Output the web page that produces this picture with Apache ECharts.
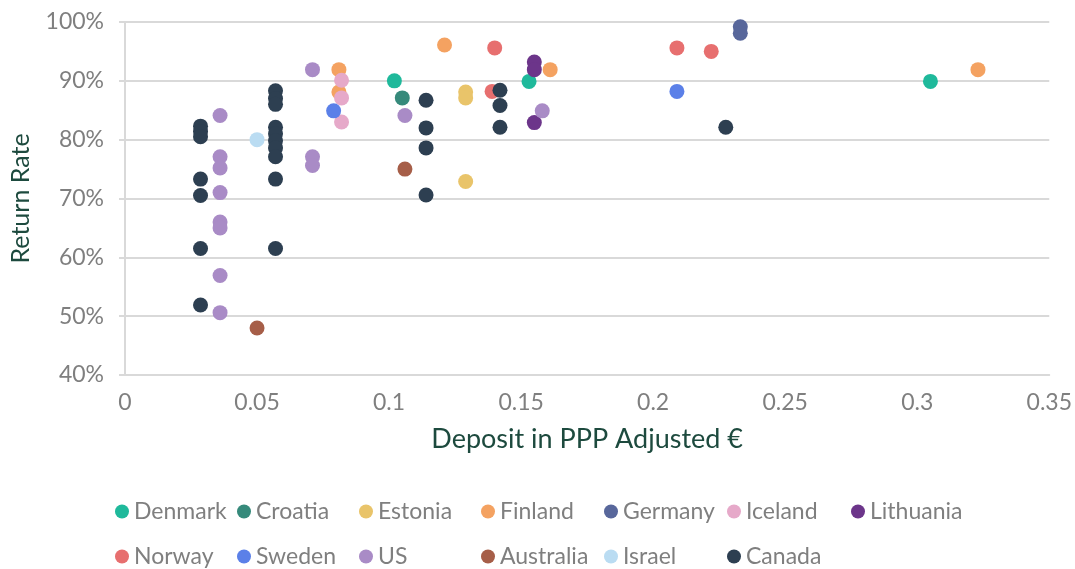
<!DOCTYPE html>
<html>
<head>
<meta charset="utf-8">
<script src="https://cdn.jsdelivr.net/npm/echarts@6/dist/echarts.min.js"></script>
<style>
  html, body { margin: 0; padding: 0; background: #fff; }
  #main { width: 1075px; height: 569px; }
</style>
</head>
<body>
<div id="main"></div>
<script>
// x = deposit (PPP adjusted €), y = return rate (%)
var countries = ['Denmark', 'Croatia', 'Estonia', 'Finland', 'Germany', 'Iceland', 'Lithuania',
                 'Norway', 'Sweden', 'US', 'Australia', 'Israel', 'Canada'];

var dataDenmark = [[0.102, 90.0], [0.153, 89.9], [0.305, 89.9]];
var dataCroatia = [[0.105, 87.1]];
var dataEstonia = [[0.129, 88.1], [0.129, 87.1], [0.129, 72.9]];
var dataFinland = [[0.081, 91.9], [0.081, 88.1], [0.121, 96.1], [0.161, 91.9], [0.323, 91.9]];
var dataGermany = [[0.233, 99.2], [0.233, 98.1]];
var dataIceland = [[0.082, 90.1], [0.082, 87.1], [0.082, 83.0]];
var dataLithuania = [[0.155, 93.2], [0.155, 91.9], [0.155, 82.9]];
var dataNorway = [[0.140, 95.6], [0.139, 88.2], [0.209, 95.6], [0.222, 95.0]];
var dataSweden = [[0.079, 84.9], [0.209, 88.2]];
var dataUS = [
    [0.036, 84.1], [0.036, 77.1], [0.036, 75.2], [0.036, 71.0], [0.036, 66.0],
    [0.036, 65.0], [0.036, 56.9], [0.036, 50.6],
    [0.071, 91.9], [0.071, 77.1], [0.071, 75.6],
    [0.106, 84.1], [0.158, 84.9]
];
var dataAustralia = [[0.050, 48.0], [0.106, 75.0]];
var dataIsrael = [[0.050, 80.0]];
var dataCanada = [
    [0.0286, 82.3], [0.0286, 81.4], [0.0286, 80.5], [0.0286, 73.3], [0.0286, 70.5],
    [0.0286, 61.5], [0.0286, 51.9],
    [0.057, 88.3], [0.057, 87.0], [0.057, 86.0], [0.057, 82.1], [0.057, 81.0],
    [0.057, 79.8], [0.057, 78.6], [0.057, 77.1], [0.057, 73.3], [0.057, 61.5],
    [0.114, 86.7], [0.114, 82.0], [0.114, 78.6], [0.114, 70.6],
    [0.142, 88.4], [0.142, 85.8], [0.142, 82.1],
    [0.2275, 82.1]
];

var seriesData = [dataDenmark, dataCroatia, dataEstonia, dataFinland, dataGermany, dataIceland,
                  dataLithuania, dataNorway, dataSweden, dataUS, dataAustralia, dataIsrael, dataCanada];

var colors = ['#1fb99b', '#368a7b', '#e9c46a', '#f4a261', '#58679b', '#e6a9c9', '#6c358a',
              '#e76f6f', '#5b80e8', '#a98bc6', '#a65e48', '#badcf2', '#2d3f51'];

// legend grid (two rows, fixed columns); dot left edges
var legendCols = [115, 237, 359, 481, 604, 727, 851];
var legendRows = [500, 545];
var legendPerRow = 7;

var labelGray = '#7f7f7f';
var nameGreen = '#1d4a3e';

var legends = countries.map(function (name, i) {
    var row = Math.floor(i / legendPerRow);
    var col = i % legendPerRow;
    return {
        data: [name],
        left: legendCols[col],
        top: legendRows[row],
        padding: 0,
        icon: 'circle',
        itemWidth: 14,
        itemHeight: 14,
        itemGap: 0,
        textStyle: {
            color: labelGray,
            fontFamily: 'Lato',
            fontSize: 23,
            padding: [0, 0, 0, 0]
        }
    };
});

var option = {
    backgroundColor: '#fff',
    color: colors,
    animation: false,
    grid: {
        left: 123,
        right: 23,
        top: 22,
        bottom: 194
    },
    legend: legends,
    xAxis: {
        type: 'value',
        min: 0,
        max: 0.35,
        interval: 0.05,
        name: 'Deposit in PPP Adjusted €',
        nameLocation: 'middle',
        nameGap: 51,
        nameTextStyle: {
            color: nameGreen,
            fontFamily: 'Lato',
            fontSize: 27
        },
        axisLine: { lineStyle: { color: '#d9d9d9', width: 2 } },
        axisTick: { show: false },
        splitLine: { show: false },
        axisLabel: {
            color: labelGray,
            fontFamily: 'Lato',
            fontSize: 23,
            margin: 16
        }
    },
    yAxis: {
        type: 'value',
        min: 40,
        max: 100,
        interval: 10,
        name: 'Return Rate',
        nameLocation: 'middle',
        nameGap: 92,
        nameTextStyle: {
            color: nameGreen,
            fontFamily: 'Lato',
            fontSize: 25
        },
        axisLine: { show: true, lineStyle: { color: '#d9d9d9', width: 2 } },
        axisTick: { show: true, length: 6, lineStyle: { color: '#d9d9d9', width: 2 } },
        splitLine: { lineStyle: { color: '#d9d9d9', width: 2 } },
        axisLabel: {
            color: labelGray,
            fontFamily: 'Lato',
            fontSize: 23,
            margin: 21,
            formatter: '{value}%'
        }
    },
    series: countries.map(function (name, i) {
        return {
            name: name,
            type: 'scatter',
            symbol: 'circle',
            symbolSize: 15,
            data: seriesData[i],
            itemStyle: { opacity: 1 }
        };
    })
};

var myChart = echarts.init(document.getElementById('main'));
myChart.setOption(option);
</script>
</body>
</html>
